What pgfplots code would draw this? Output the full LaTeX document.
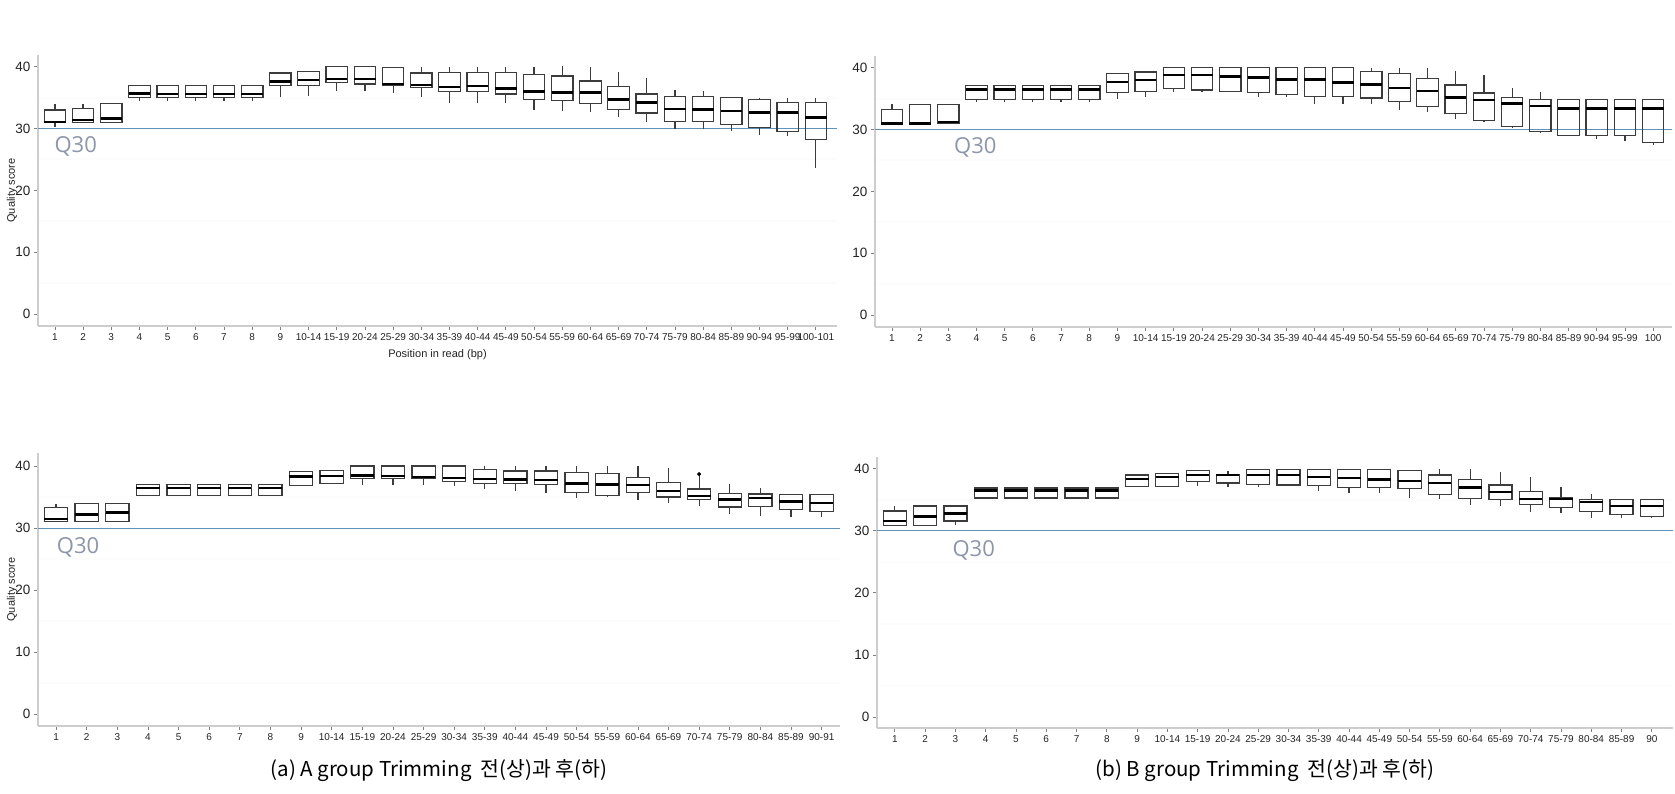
\documentclass[border=0pt]{standalone}
\usepackage{pgfplots}
\pgfplotsset{compat=1.18}
\usepgfplotslibrary{statistics}
\usepackage{fontspec}
\setmainfont{Liberation Sans}
\newfontfamily\qfont{Open Sans}
\newfontfamily\kr{Noto Sans CJK KR}
\definecolor{boxgray}{RGB}{60,60,60}
\definecolor{q30line}{RGB}{95,145,185}
\definecolor{q30text}{RGB}{140,150,168}
\definecolor{axisgray}{RGB}{205,205,205}
\definecolor{tickc}{RGB}{35,35,35}
\newcommand{\bx}[6]{\addplot[bxs, boxplot prepared={draw position=#1, lower whisker=#2, lower quartile=#3, median=#4, upper quartile=#5, upper whisker=#6}] coordinates {};}
\pgfplotsset{
 bxs/.style={draw=boxgray, line width=1.2pt, boxplot/box extend=0.76, boxplot/whisker extend=0,
   boxplot/every median/.style={draw=black, line width=2.4pt}},
 qpanel/.style={scale only axis, axis lines*=left,
   axis line style={draw=axisgray, line width=1.6pt, -},
   tick align=outside, major tick length=4pt,
   tick style={draw=gray, line width=0.8pt},
   ytick={0,10,20,30,40},
   y tick label style={font=\fontsize{13.5}{14}\selectfont, text=tickc},
   x tick label style={font=\fontsize{10}{11}\selectfont, text=tickc},
   /pgf/number format/assume math mode=true,
   boxplot/draw direction=y,
   minor ytick={5,15,25,35}, yminorgrids, minor grid style={draw=gray!2, line width=2pt}, minor tick length=0pt,
   ylabel style={font=\fontsize{11}{12}\selectfont, text=tickc},
   xlabel style={font=\fontsize{11}{12}\selectfont, text=tickc},
 },
}
\begin{document}
\begin{tikzpicture}[x=1pt,y=1pt]
\useasboundingbox (0,0) rectangle (1675,794);
% ---------------- Panel 1: A before
\begin{axis}[qpanel, at={(38pt,468pt)}, anchor=south west, width=799pt, height=271pt,
  xmin=-0.6, xmax=27.75, ymin=-1.94, ymax=41.9,
  xtick={0,...,27},
  xticklabels={1,2,3,4,5,6,7,8,9,10-14,15-19,20-24,25-29,30-34,35-39,40-44,45-49,50-54,55-59,60-64,65-69,70-74,75-79,80-84,85-89,90-94,95-99,100-101},
  ylabel={Quality score}, ylabel style={at={(axis description cs:-0.0325,0.5)}, anchor=center},
  xlabel={Position in read (bp)}, xlabel style={at={(axis description cs:0.5,-0.107)}, anchor=center}]
\addplot[q30line, line width=1pt] coordinates {(-0.6,30) (27.75,30)};
\bx{0}{30.2}{31.0}{31.1}{33.0}{33.9}
\bx{1}{30.9}{31.0}{31.4}{33.3}{33.9}
\bx{2}{31.0}{31.0}{31.6}{34.1}{34.1}
\bx{3}{34.5}{35.0}{35.7}{37.0}{37.0}
\bx{4}{34.5}{35.0}{35.6}{37.0}{37.0}
\bx{5}{34.5}{35.0}{35.6}{37.0}{37.0}
\bx{6}{34.5}{35.0}{35.6}{37.0}{37.0}
\bx{7}{34.5}{35.0}{35.6}{37.0}{37.0}
\bx{8}{35.1}{37.0}{37.6}{39.0}{39.0}
\bx{9}{35.3}{37.0}{37.9}{39.2}{39.2}
\bx{10}{36.0}{37.4}{38.0}{40.0}{40.0}
\bx{11}{36.0}{37.2}{38.0}{40.0}{40.0}
\bx{12}{35.8}{37.0}{37.2}{39.9}{39.9}
\bx{13}{35.1}{36.6}{37.0}{39.0}{40.0}
\bx{14}{34.2}{36.0}{36.7}{39.1}{40.0}
\bx{15}{34.1}{36.0}{36.9}{39.1}{40.0}
\bx{16}{34.1}{35.6}{36.5}{39.1}{40.0}
\bx{17}{33.0}{34.7}{36.0}{38.7}{40.0}
\bx{18}{32.9}{34.5}{35.8}{38.5}{40.1}
\bx{19}{32.7}{34.0}{35.8}{37.7}{40.0}
\bx{20}{31.8}{33.1}{34.7}{36.8}{39.2}
\bx{21}{31.0}{32.5}{34.2}{35.6}{38.1}
\bx{22}{30.0}{31.1}{33.2}{35.2}{36.2}
\bx{23}{30.0}{31.2}{33.1}{35.2}{36.0}
\bx{24}{29.6}{30.7}{32.8}{35.0}{35.0}
\bx{25}{29.0}{30.2}{32.6}{34.7}{35.0}
\bx{26}{28.8}{29.5}{32.6}{34.2}{35.0}
\bx{27}{23.6}{28.2}{31.8}{34.2}{34.9}
\node[anchor=west, inner sep=0pt, font=\qfont\fontsize{22}{22}\selectfont, text=q30text] at (axis cs:-0.02,27.1) {Q30};
\end{axis}
% ---------------- Panel 2: B before
\begin{axis}[qpanel, at={(875pt,467pt)}, anchor=south west, width=797pt, height=271pt,
  xmin=-0.6, xmax=27.67, ymin=-1.94, ymax=41.9,
  xtick={0,...,27},
  xticklabels={1,2,3,4,5,6,7,8,9,10-14,15-19,20-24,25-29,30-34,35-39,40-44,45-49,50-54,55-59,60-64,65-69,70-74,75-79,80-84,85-89,90-94,95-99,100}]
\addplot[q30line, line width=1pt] coordinates {(-0.6,30) (27.67,30)};
\bx{0}{30.9}{30.9}{31.0}{33.3}{34.1}
\bx{1}{30.9}{30.9}{31.0}{34.1}{34.1}
\bx{2}{31.0}{31.0}{31.2}{34.1}{34.1}
\bx{3}{34.5}{34.9}{36.5}{37.1}{37.1}
\bx{4}{34.5}{34.9}{36.5}{37.1}{37.1}
\bx{5}{34.5}{34.9}{36.5}{37.1}{37.1}
\bx{6}{34.5}{34.9}{36.5}{37.1}{37.1}
\bx{7}{34.5}{34.9}{36.5}{37.1}{37.1}
\bx{8}{34.9}{36.0}{37.7}{39.1}{39.1}
\bx{9}{35.2}{36.2}{38.0}{39.3}{39.3}
\bx{10}{36.0}{36.7}{38.8}{40.0}{40.0}
\bx{11}{36.0}{36.4}{38.8}{40.0}{40.0}
\bx{12}{36.1}{36.1}{38.6}{40.0}{40.0}
\bx{13}{35.2}{36.0}{38.4}{40.0}{40.0}
\bx{14}{35.2}{35.7}{38.1}{40.0}{40.0}
\bx{15}{34.2}{35.3}{38.1}{40.0}{40.0}
\bx{16}{34.1}{35.3}{37.6}{40.0}{40.0}
\bx{17}{34.1}{35.1}{37.3}{39.4}{39.9}
\bx{18}{33.2}{34.5}{36.7}{39.1}{40.0}
\bx{19}{32.9}{33.7}{36.2}{38.2}{40.0}
\bx{20}{31.7}{32.6}{35.2}{37.2}{39.5}
\bx{21}{31.2}{31.4}{34.8}{35.9}{38.8}
\bx{22}{30.3}{30.5}{34.2}{35.2}{36.7}
\bx{23}{29.5}{29.7}{33.8}{34.9}{36.0}
\bx{24}{29.0}{29.0}{33.4}{34.9}{34.9}
\bx{25}{28.5}{29.0}{33.4}{34.9}{34.9}
\bx{26}{28.1}{29.0}{33.4}{34.9}{34.9}
\bx{27}{27.5}{27.9}{33.4}{34.9}{34.9}
\node[anchor=west, inner sep=0pt, font=\qfont\fontsize{22}{22}\selectfont, text=q30text] at (axis cs:2.2,27.1) {Q30};
\end{axis}
% ---------------- Panel 3: A after
\begin{axis}[qpanel, at={(38pt,68pt)}, anchor=south west, width=802pt, height=273pt,
  xmin=-0.59, xmax=25.6, ymin=-1.94, ymax=42.1,
  xtick={0,...,25},
  xticklabels={1,2,3,4,5,6,7,8,9,10-14,15-19,20-24,25-29,30-34,35-39,40-44,45-49,50-54,55-59,60-64,65-69,70-74,75-79,80-84,85-89,90-91},
  ylabel={Quality score}, ylabel style={at={(axis description cs:-0.0324,0.5)}, anchor=center}]
\addplot[q30line, line width=1pt] coordinates {(-0.59,30) (25.6,30)};
\bx{0}{31.0}{31.0}{31.5}{33.3}{33.9}
\bx{1}{31.0}{31.0}{32.2}{34.0}{34.0}
\bx{2}{31.0}{31.0}{32.5}{34.0}{34.0}
\bx{3}{35.2}{35.2}{36.5}{37.0}{37.0}
\bx{4}{35.2}{35.2}{36.5}{37.0}{37.0}
\bx{5}{35.2}{35.2}{36.5}{37.0}{37.0}
\bx{6}{35.2}{35.2}{36.5}{37.0}{37.0}
\bx{7}{35.2}{35.2}{36.5}{37.0}{37.0}
\bx{8}{36.9}{36.9}{38.3}{39.1}{39.1}
\bx{9}{37.2}{37.2}{38.4}{39.3}{39.3}
\bx{10}{37.0}{38.0}{38.5}{40.0}{40.0}
\bx{11}{37.0}{38.0}{38.4}{40.0}{40.0}
\bx{12}{36.9}{38.0}{38.2}{40.0}{40.0}
\bx{13}{36.7}{37.5}{38.1}{40.0}{40.0}
\bx{14}{36.3}{37.2}{37.9}{39.5}{40.0}
\bx{15}{35.9}{37.2}{37.8}{39.2}{40.0}
\bx{16}{35.6}{37.0}{37.7}{39.2}{40.0}
\bx{17}{34.9}{35.7}{37.2}{39.0}{40.0}
\bx{18}{35.0}{35.3}{37.0}{38.8}{40.0}
\bx{19}{34.5}{35.7}{36.9}{38.2}{40.0}
\bx{20}{34.1}{35.0}{36.0}{37.4}{39.7}
\bx{21}{33.6}{34.6}{35.2}{36.3}{38.5}
\bx{22}{32.2}{33.4}{34.6}{35.6}{37.1}
\bx{23}{31.9}{33.5}{34.8}{35.5}{36.4}
\bx{24}{31.7}{33.0}{34.3}{35.4}{35.5}
\bx{25}{31.7}{32.6}{34.0}{35.4}{35.4}
\addplot[only marks, mark=*, mark size=1.8pt, black] coordinates {(21,38.7)};
\node[anchor=west, inner sep=0pt, font=\qfont\fontsize{22}{22}\selectfont, text=q30text] at (axis cs:0.02,26.8) {Q30};
\end{axis}
% ---------------- Panel 4: B after
\begin{axis}[qpanel, at={(877pt,66pt)}, anchor=south west, width=796pt, height=271pt,
  xmin=-0.59, xmax=25.7, ymin=-1.77, ymax=41.9,
  xtick={0,...,25},
  xticklabels={1,2,3,4,5,6,7,8,9,10-14,15-19,20-24,25-29,30-34,35-39,40-44,45-49,50-54,55-59,60-64,65-69,70-74,75-79,80-84,85-89,90}]
\addplot[q30line, line width=1pt] coordinates {(-0.59,30) (25.7,30)};
\bx{0}{30.9}{30.9}{31.6}{33.2}{34.0}
\bx{1}{30.9}{30.9}{32.3}{34.0}{34.0}
\bx{2}{30.9}{31.6}{32.8}{34.0}{34.0}
\bx{3}{35.1}{35.3}{36.5}{36.9}{36.9}
\bx{4}{35.1}{35.3}{36.5}{36.9}{36.9}
\bx{5}{35.1}{35.3}{36.5}{36.9}{36.9}
\bx{6}{35.1}{35.3}{36.5}{36.9}{36.9}
\bx{7}{35.1}{35.3}{36.5}{36.9}{36.9}
\bx{8}{37.1}{37.1}{38.4}{39.0}{39.0}
\bx{9}{37.2}{37.2}{38.7}{39.2}{39.2}
\bx{10}{37.2}{37.9}{39.0}{39.7}{39.7}
\bx{11}{37.0}{37.7}{39.0}{39.1}{39.7}
\bx{12}{37.0}{37.5}{39.0}{39.9}{39.9}
\bx{13}{37.2}{37.4}{39.0}{39.9}{39.9}
\bx{14}{36.5}{37.3}{38.7}{39.9}{39.9}
\bx{15}{36.1}{37.0}{38.5}{39.9}{39.9}
\bx{16}{36.1}{37.0}{38.3}{39.9}{39.9}
\bx{17}{35.3}{36.8}{38.0}{39.7}{39.7}
\bx{18}{35.1}{35.8}{37.7}{39.0}{40.0}
\bx{19}{34.1}{35.2}{37.0}{38.3}{40.0}
\bx{20}{34.0}{35.1}{36.3}{37.4}{39.5}
\bx{21}{33.1}{34.3}{35.1}{36.3}{38.7}
\bx{22}{32.8}{33.8}{35.1}{35.4}{37.0}
\bx{23}{32.0}{33.1}{34.6}{35.1}{35.9}
\bx{24}{32.1}{32.6}{34.0}{35.0}{35.2}
\bx{25}{32.1}{32.3}{34.0}{35.0}{35.0}
\node[anchor=west, inner sep=0pt, font=\qfont\fontsize{22}{22}\selectfont, text=q30text] at (axis cs:1.9,26.8) {Q30};
\end{axis}
% ---------------- captions
\node[font=\kr\fontsize{20.5}{22}\selectfont, text=black] at (439,23) {(a) A group Trimming \ 전(상)과 후(하)};
\node[font=\kr\fontsize{20.5}{22}\selectfont, text=black] at (1265,23) {(b) B group Trimming \ 전(상)과 후(하)};
\end{tikzpicture}
\end{document}
